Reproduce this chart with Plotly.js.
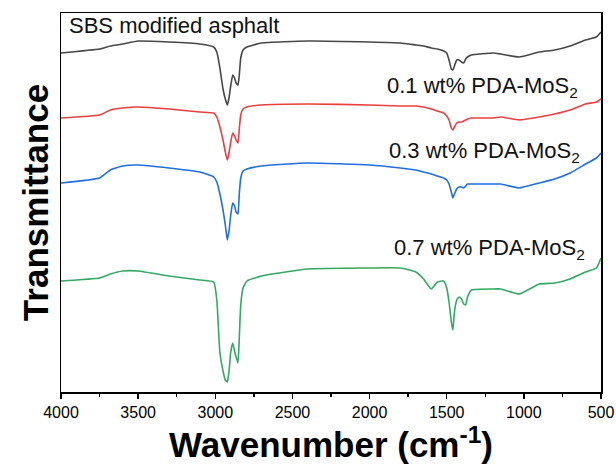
<!DOCTYPE html>
<html>
<head>
<meta charset="utf-8">
<script src="https://cdn.plot.ly/plotly-3.0.1.min.js"></script>
<style>html,body{margin:0;padding:0;background:#fff;}#chart{width:616px;height:465px;}</style>
</head>
<body>
<div id="chart"></div>
<script>
// Wavenumber (cm^-1), shared by all spectra
const wavenumber = [4000, 3750, 3680, 3600, 3500, 3300, 3100, 3010, 2990, 2970, 2950, 2935, 2922, 2910, 2900, 2887, 2875, 2865, 2853, 2845, 2835, 2820, 2795, 2700, 2400, 2000, 1800, 1700, 1650, 1600, 1560, 1520, 1500, 1485, 1470, 1460, 1450, 1435, 1420, 1405, 1390, 1377, 1365, 1340, 1200, 1150, 1030, 900, 800, 700, 600, 530, 500];

// Transmittance (a.u., offset-stacked)
const sbsAsphalt = [339, 343, 346, 348, 351, 350, 348, 345, 340, 324, 303, 293, 287, 295, 306, 317, 314, 309, 307, 316, 334, 342, 345, 349, 351, 350, 349, 347, 346, 344, 343, 341, 339, 332, 323, 322, 326, 332, 332, 330, 329, 333, 335, 337, 339, 338, 335, 340, 342, 346, 352, 355, 360];
const pda01 = [274, 277, 282, 284, 285, 283, 280, 279, 275, 265, 252, 240, 232, 240, 250, 259, 256, 252, 249, 262, 277, 283, 285, 287, 288, 287, 286, 286, 285, 283, 281, 279, 276, 272, 264, 262, 265, 269, 270, 270, 271, 272, 273, 274, 274, 275, 272, 275, 278, 282, 288, 290, 293];
const pda03 = [209, 214, 222, 226, 227, 224, 220, 215, 210, 198, 182, 167, 152, 162, 177, 189, 186, 180, 178, 197, 214, 221, 223, 226, 229, 227, 224, 222, 220, 218, 216, 214, 212, 208, 200, 194, 198, 203, 205, 205, 204, 206, 208, 208, 208, 208, 204, 209, 213, 219, 228, 234, 239];
const pda07 = [111, 114, 118, 121, 121, 116, 112, 110, 92, 39, 21, 12, 10, 22, 40, 49, 41, 35, 29, 52, 87, 104, 111, 116, 123, 124, 124, 120, 113, 103, 110, 111, 104, 90, 70, 62, 80, 92, 95, 93, 88, 87, 95, 102, 103, 103, 98, 108, 109, 113, 120, 124, 134];

const seriesNames = ["SBS modified asphalt", "0.1 wt% PDA-MoS<sub>2</sub>", "0.3 wt% PDA-MoS<sub>2</sub>", "0.7 wt% PDA-MoS<sub>2</sub>"];
const seriesData = [sbsAsphalt, pda01, pda03, pda07];
const colors = ["#474747", "#ea3f3f", "#1f6fe0", "#33a964"];

// Label anchor points (wavenumber, transmittance)
const labelX = [3961, 636, 623, 591];
const labelY = [367, 305, 240, 143];
const labelAnchor = ["left", "right", "right", "right"];

const traces = seriesData.map((ys, i) => ({
  x: wavenumber, y: ys, type: "scatter", mode: "lines",
  name: seriesNames[i], line: {color: colors[i], width: 1.6, shape: "spline", smoothing: 0.4}, hoverinfo: "skip"
}));

const annotations = seriesNames.map((t, i) => ({
  x: labelX[i], y: labelY[i], xref: "x", yref: "y", text: t, showarrow: false,
  xanchor: labelAnchor[i], yanchor: "middle",
  font: {family: "Liberation Sans, Arial, sans-serif", size: 22, color: "#111"}
}));

const layout = {
  width: 616, height: 465,
  margin: {l: 61, r: 15, t: 13, b: 73},
  paper_bgcolor: "#fff", plot_bgcolor: "#fff",
  showlegend: false,
  font: {family: "Liberation Sans, Arial, sans-serif", color: "#000"},
  xaxis: {
    range: [4000, 500], dtick: 500, tick0: 500,
    ticks: "outside", ticklen: 5, tickwidth: 1.5, tickcolor: "#000",
    minor: {dtick: 250, ticks: "outside", ticklen: 3, tickwidth: 1.5, tickcolor: "#000", showgrid: false},
    showline: true, linecolor: "#000", linewidth: 1.5, mirror: true,
    showgrid: false, zeroline: false,
    tickfont: {size: 16, color: "#000"},
    title: {text: "<b>Wavenumber (cm<sup>-1</sup>)</b>", font: {size: 35, color: "#000"}, standoff: 10}
  },
  yaxis: {
    range: [0, 379], showticklabels: false, ticks: "",
    showline: true, linecolor: "#000", linewidth: 1.5, mirror: true,
    showgrid: false, zeroline: false,
    title: {text: "<b>Transmittance</b>", font: {size: 35, color: "#000"}, standoff: 0}
  },
  annotations: annotations
};

Plotly.newPlot("chart", traces, layout, {displayModeBar: false, staticPlot: true});
</script>
</body>
</html>
